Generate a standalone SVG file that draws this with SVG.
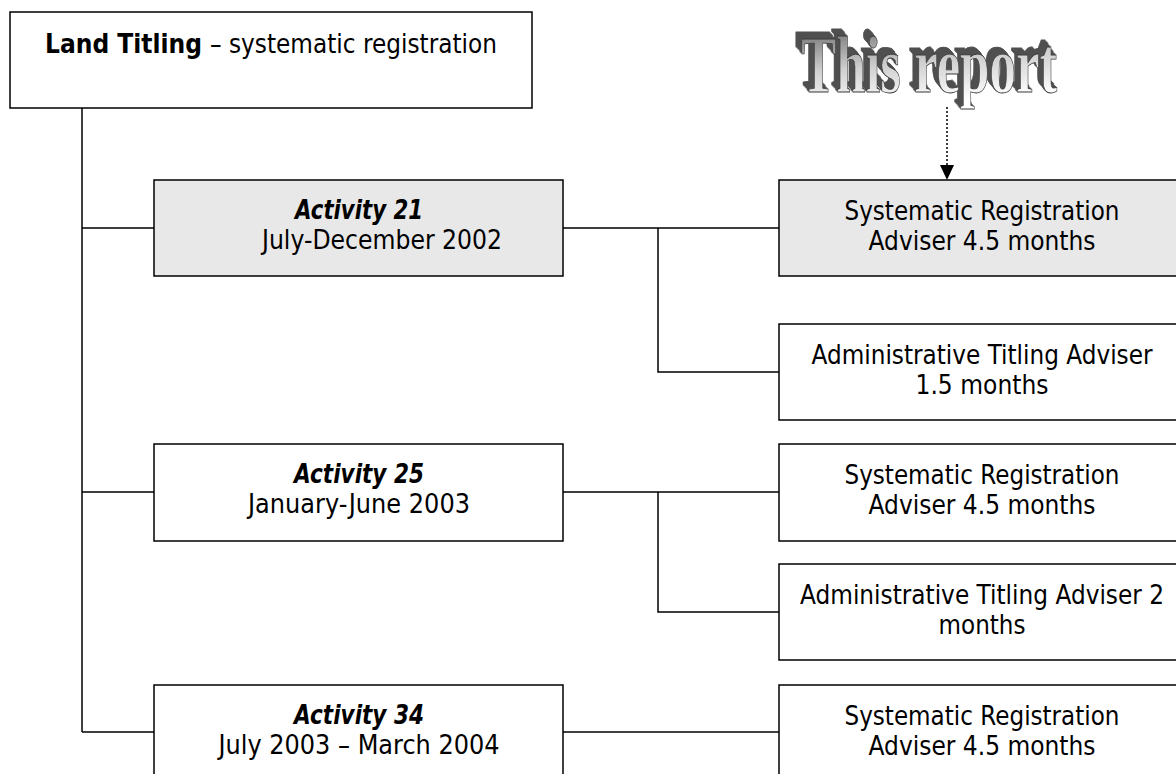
<svg xmlns="http://www.w3.org/2000/svg" width="1176" height="774" viewBox="0 0 1176 774">
  <style>
    .box { fill: #ffffff; stroke: #000000; stroke-width: 1.5; }
    .hl { fill: #e8e8e8; }
    .conn { fill: none; stroke: #000000; stroke-width: 1.5; }
    .t { font-family: 'DejaVu Sans', Verdana, sans-serif; font-size: 26.67px; fill: #000000; text-anchor: middle; }
    .s { text-anchor: start; }
    .b { font-weight: bold; }
    .bi { font-weight: bold; font-style: italic; }
    .wa { font-family: 'Liberation Serif', 'Times New Roman', serif; font-size: 80px; font-weight: bold;
          fill: url(#waFace); stroke: #3a3a3a; stroke-width: 0.8; filter: url(#extrude); }
  </style>
  <defs>
    <linearGradient id="waFace" x1="0" y1="0" x2="0.25" y2="1">
      <stop offset="0" stop-color="#5e5e5e"/>
      <stop offset="0.55" stop-color="#cfcfcf"/>
      <stop offset="1" stop-color="#ffffff"/>
    </linearGradient>
    <!-- solid bevel pushed up and to the left behind the lettering -->
    <filter id="extrude" x="-10%" y="-30%" width="120%" height="160%">
      <feOffset in="SourceAlpha" dx="-1" dy="-1.2" result="o1"/>
      <feOffset in="SourceAlpha" dx="-2" dy="-2.4" result="o2"/>
      <feOffset in="SourceAlpha" dx="-3" dy="-3.6" result="o3"/>
      <feOffset in="SourceAlpha" dx="-4" dy="-4.8" result="o4"/>
      <feOffset in="SourceAlpha" dx="-5" dy="-6" result="o5"/>
      <feOffset in="SourceAlpha" dx="-6" dy="-7.2" result="o6"/>
      <feMerge result="depth">
        <feMergeNode in="o1"/><feMergeNode in="o2"/><feMergeNode in="o3"/>
        <feMergeNode in="o4"/><feMergeNode in="o5"/><feMergeNode in="o6"/>
      </feMerge>
      <feFlood flood-color="#505050"/>
      <feComposite operator="in" in2="depth" result="side"/>
      <feMerge>
        <feMergeNode in="side"/>
        <feMergeNode in="SourceGraphic"/>
      </feMerge>
    </filter>
  </defs>

  <!-- connectors -->
  <g id="connectors">
    <path class="conn" d="M82 108 V732"/>
    <path class="conn" d="M82 228 H154 M82 492 H154 M82 732 H154"/>
    <path class="conn" d="M563 228 H779 M658 228 V372 H779"/>
    <path class="conn" d="M563 492 H779 M658 492 V612 H779"/>
    <path class="conn" d="M563 732 H779"/>
    <path d="M947 107 V165" fill="none" stroke="#000" stroke-width="1.5" stroke-dasharray="2 2"/>
    <polygon points="940,165 954,165 947,180" fill="#000"/>
  </g>

  <!-- root -->
  <g id="land-titling">
    <rect class="box" x="10" y="12" width="522" height="96"/>
    <text class="t b s" x="45" y="53" textLength="157" lengthAdjust="spacingAndGlyphs">Land Titling</text>
    <text class="t s" x="210" y="53" textLength="287" lengthAdjust="spacingAndGlyphs">– systematic registration</text>
  </g>

  <!-- activities -->
  <g id="activity-21">
    <rect class="box hl" x="154" y="180" width="409" height="96"/>
    <text class="t bi" x="359" y="219" textLength="128" lengthAdjust="spacingAndGlyphs">Activity 21</text>
    <text class="t" x="382" y="249" textLength="240" lengthAdjust="spacingAndGlyphs">July-December 2002</text>
  </g>
  <g id="activity-25">
    <rect class="box" x="154" y="444" width="409" height="97"/>
    <text class="t bi" x="359" y="483" textLength="130" lengthAdjust="spacingAndGlyphs">Activity 25</text>
    <text class="t" x="359" y="513" textLength="222" lengthAdjust="spacingAndGlyphs">January-June 2003</text>
  </g>
  <g id="activity-34">
    <rect class="box" x="154" y="685" width="409" height="97"/>
    <text class="t bi" x="359" y="724" textLength="130" lengthAdjust="spacingAndGlyphs">Activity 34</text>
    <text class="t" x="359" y="754" textLength="281" lengthAdjust="spacingAndGlyphs">July 2003 – March 2004</text>
  </g>

  <!-- advisers -->
  <g id="sr-21">
    <rect class="box hl" x="779" y="180" width="410" height="96"/>
    <text class="t" x="982" y="220" textLength="275" lengthAdjust="spacingAndGlyphs">Systematic Registration</text>
    <text class="t" x="982" y="250" textLength="227" lengthAdjust="spacingAndGlyphs">Adviser 4.5 months</text>
  </g>
  <g id="at-21">
    <rect class="box" x="779" y="324" width="410" height="96"/>
    <text class="t" x="982" y="364" textLength="341" lengthAdjust="spacingAndGlyphs">Administrative Titling Adviser</text>
    <text class="t" x="982" y="394" textLength="133" lengthAdjust="spacingAndGlyphs">1.5 months</text>
  </g>
  <g id="sr-25">
    <rect class="box" x="779" y="444" width="410" height="97"/>
    <text class="t" x="982" y="484" textLength="275" lengthAdjust="spacingAndGlyphs">Systematic Registration</text>
    <text class="t" x="982" y="514" textLength="227" lengthAdjust="spacingAndGlyphs">Adviser 4.5 months</text>
  </g>
  <g id="at-25">
    <rect class="box" x="779" y="564" width="410" height="96"/>
    <text class="t" x="982" y="604" textLength="364" lengthAdjust="spacingAndGlyphs">Administrative Titling Adviser 2</text>
    <text class="t" x="982" y="634" textLength="87" lengthAdjust="spacingAndGlyphs">months</text>
  </g>
  <g id="sr-34">
    <rect class="box" x="779" y="685" width="410" height="97"/>
    <text class="t" x="982" y="725" textLength="275" lengthAdjust="spacingAndGlyphs">Systematic Registration</text>
    <text class="t" x="982" y="755" textLength="227" lengthAdjust="spacingAndGlyphs">Adviser 4.5 months</text>
  </g>

  <!-- extruded title -->
  <g id="this-report">
    <text class="wa" x="801" y="92" textLength="256" lengthAdjust="spacingAndGlyphs">This report</text>
  </g>
</svg>
